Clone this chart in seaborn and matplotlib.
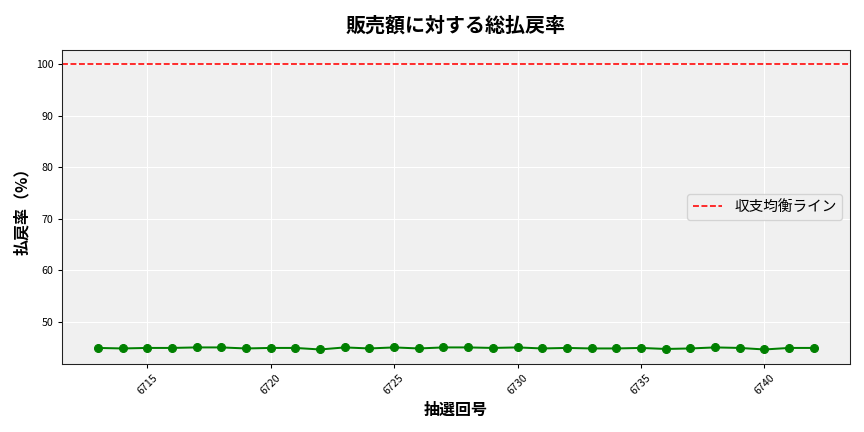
import numpy as np
import pandas as pd
import matplotlib
matplotlib.use('Agg')
import matplotlib.pyplot as plt
import seaborn as sns

draws = list(range(6713, 6743))
payout = [44.9, 44.8, 44.9, 44.9, 45.0, 45.0, 44.8, 44.9, 44.9, 44.6,
          45.0, 44.8, 45.0, 44.8, 45.0, 45.0, 44.9, 45.0, 44.8, 44.9,
          44.8, 44.8, 44.9, 44.7, 44.8, 45.0, 44.9, 44.6, 44.9, 44.9]
breakeven = 100

sns.set_style('darkgrid', {'axes.facecolor': '#f0f0f0', 'axes.edgecolor': '#222222',
                           'xtick.color': 'black', 'ytick.color': 'black',
                           'text.color': 'black', 'axes.labelcolor': 'black'})
plt.rcParams['font.family'] = ['Noto Sans CJK JP', 'DejaVu Sans']

df = pd.DataFrame({'draw': draws, 'payout': payout})

fig, ax = plt.subplots(figsize=(9, 4.5), dpi=96)
sns.lineplot(data=df, x='draw', y='payout', color='green', marker='o',
             markersize=6, markeredgecolor='green', ax=ax)
ax.axhline(breakeven, color='red', linestyle='--', linewidth=1.2, label='収支均衡ライン')

ax.set_title('販売額に対する総払戻率', fontsize=15, fontweight='bold', pad=14)
ax.set_xlabel('抽選回号', fontsize=12, fontweight='bold')
ax.set_ylabel('払戻率（%）', fontsize=12, fontweight='bold')
ax.tick_params(axis='both', labelsize=8, length=3, left=True, bottom=True)
ax.set_xticks([6715, 6720, 6725, 6730, 6735, 6740])
plt.setp(ax.get_xticklabels(), rotation=45)
for s in ax.spines.values():
    s.set_visible(True)
ax.legend(loc='center right', fontsize=11)

plt.tight_layout()
plt.savefig('out.png', dpi=96)
